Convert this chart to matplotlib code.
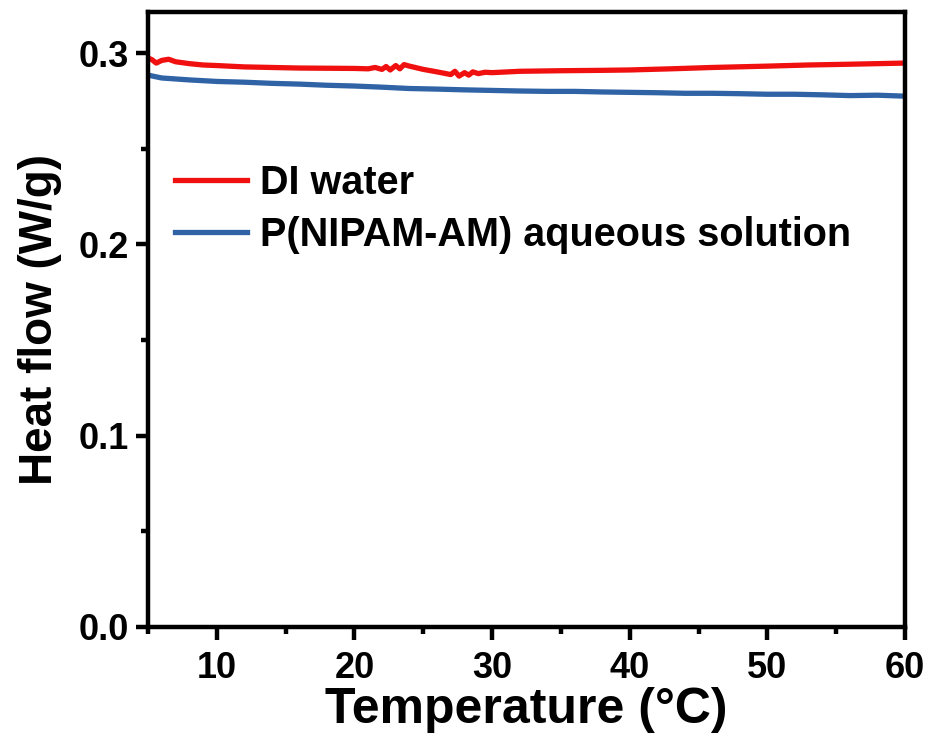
import matplotlib
matplotlib.use("Agg")
import matplotlib.pyplot as plt
from matplotlib.ticker import MultipleLocator

plt.rcParams["font.family"] = ["Liberation Sans", "DejaVu Sans"]
plt.rcParams["font.weight"] = "bold"

# temperature (C) and heat flow (W/g)
temp_water = [5.0, 5.3, 5.6, 6.0, 6.5, 7.0, 8.0, 9.0, 10.0, 12.0, 14.0, 16.0, 18.0,
              20.0, 21.0, 21.5, 22.0, 22.3, 22.6, 23.0, 23.3, 23.6, 24.0, 25.0,
              26.0, 27.0, 27.3, 27.6, 28.0, 28.3, 28.6, 29.0, 29.5, 30.0, 32.0,
              35.0, 38.0, 40.0, 43.0, 46.0, 50.0, 53.0, 56.0, 58.0, 60.0]
heat_water = [0.2975, 0.2965, 0.2948, 0.2962, 0.2968, 0.2955, 0.2945, 0.2938, 0.2935,
              0.2928, 0.2925, 0.2922, 0.2921, 0.2920, 0.2918, 0.2925, 0.2915, 0.2930,
              0.2912, 0.2935, 0.2918, 0.2940, 0.2932, 0.2915, 0.2902, 0.2888, 0.2905,
              0.2880, 0.2898, 0.2885, 0.2902, 0.2893, 0.2900, 0.2898, 0.2905, 0.2908,
              0.2910, 0.2912, 0.2918, 0.2925, 0.2932, 0.2938, 0.2942, 0.2945, 0.2948]

temp_poly = [5.0, 6.0, 8.0, 10.0, 12.0, 14.0, 16.0, 18.0, 20.0, 22.0, 24.0, 26.0,
             28.0, 30.0, 32.0, 34.0, 36.0, 38.0, 40.0, 42.0, 44.0, 46.0, 48.0,
             50.0, 52.0, 54.0, 56.0, 58.0, 60.0]
heat_poly = [0.2885, 0.2870, 0.2860, 0.2852, 0.2848, 0.2842, 0.2838, 0.2832, 0.2828,
             0.2822, 0.2815, 0.2812, 0.2808, 0.2805, 0.2802, 0.2800, 0.2800, 0.2797,
             0.2795, 0.2793, 0.2790, 0.2790, 0.2788, 0.2785, 0.2785, 0.2782, 0.2778,
             0.2780, 0.2775]

fig = plt.figure(figsize=(9.29, 7.38), dpi=100)
ax = fig.add_axes([148 / 929, 1 - 627 / 738, 757 / 929, 615 / 738])

ax.plot(temp_water, heat_water, color="#f01010", lw=3.8, label="DI water")
ax.plot(temp_poly, heat_poly, color="#2f63a5", lw=3.8, label="P(NIPAM-AM) aqueous solution")

ax.set_xlim(5, 60)
ax.set_ylim(0, 0.3215)
ax.xaxis.set_major_locator(MultipleLocator(10))
ax.xaxis.set_minor_locator(MultipleLocator(5))
ax.yaxis.set_minor_locator(MultipleLocator(0.05))
ax.set_yticks([0, 0.1, 0.2, 0.3])
ax.set_yticklabels(["0.0", "0.1", "0.2", "0.3"])

for s in ax.spines.values():
    s.set_linewidth(3.2)
ax.tick_params(which="major", direction="out", length=9, width=3.2, labelsize=26, pad=5)
ax.tick_params(axis="x", which="major", pad=8)
ax.tick_params(which="minor", direction="out", length=5, width=3.2)
for lab in ax.get_xticklabels() + ax.get_yticklabels():
    lab.set_fontweight("bold")

ax.set_xlabel("Temperature (°C)", fontsize=36, fontweight="bold", labelpad=1)
ax.set_ylabel("Heat flow (W/g)", fontsize=33, fontweight="bold", labelpad=12)

ax.legend(loc="upper left", bbox_to_anchor=(0.036, 0.753), frameon=False,
          prop={"size": 28.5, "weight": "bold"}, handlelength=1.8, handletextpad=0.33,
          labelspacing=0.35, borderpad=0, borderaxespad=0)

fig.savefig("out.png", dpi=100)
